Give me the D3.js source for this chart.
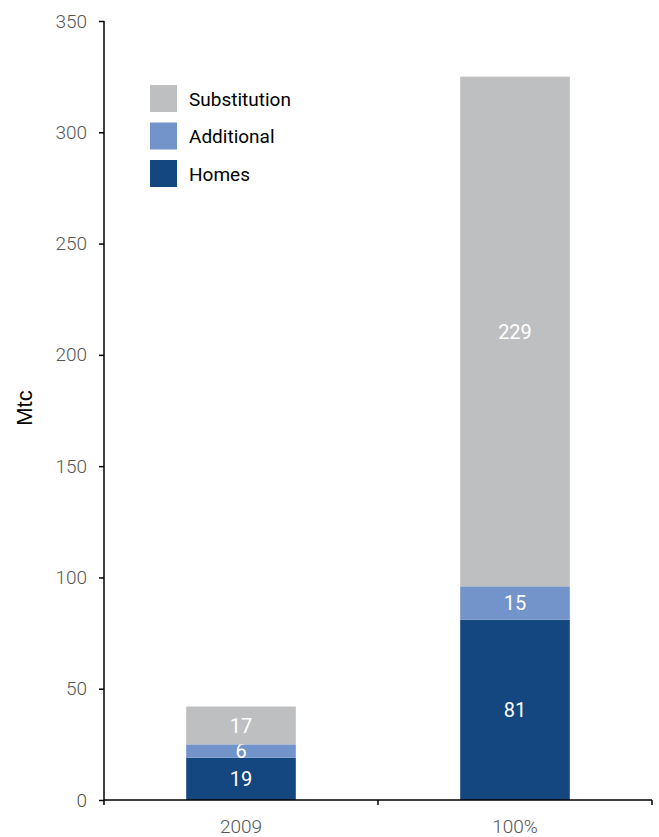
<!DOCTYPE html>
<html>
<head>
<meta charset="utf-8">
<script src="https://cdn.jsdelivr.net/npm/d3@7"></script>
<style>
  body { margin: 0; background: #fff; }
  text { font-family: "Century Gothic", Roboto, "DejaVu Sans", sans-serif; }
</style>
</head>
<body>
<script>
// data
var categories = ["2009", "100%"];
var seriesNames = ["Homes", "Additional", "Substitution"];
var homes = [19, 81];
var additional = [6, 15];
var substitution = [17, 229];
var yTicks = [0, 50, 100, 150, 200, 250, 300, 350];

var colors = { Homes: "#14467f", Additional: "#7393cb", Substitution: "#bebfc1" };

var width = 659, height = 837;
var plotLeft = 104, plotRight = 652, plotTop = 21, plotBottom = 800;

var svg = d3.select("body").append("svg")
    .attr("width", width)
    .attr("height", height);

// build rows for the stack
var rows = categories.map(function(c, i) {
  return { cat: c, Homes: homes[i], Additional: additional[i], Substitution: substitution[i] };
});
var stacked = d3.stack().keys(seriesNames)(rows);

var xAxisScale = d3.scaleBand().domain(categories).range([plotLeft, plotRight]).padding(0);
var xBar = d3.scaleBand().domain(categories).range([plotLeft, plotRight])
    .paddingInner(0.6).paddingOuter(0.3);

var y = d3.scaleLinear().domain([0, 350]).range([plotBottom, plotTop]);

// bars
var layer = svg.selectAll(".layer")
    .data(stacked)
  .enter().append("g")
    .attr("class", "layer")
    .attr("fill", function(d) { return colors[d.key]; });

layer.selectAll("rect")
    .data(function(d) { return d; })
  .enter().append("rect")
    .attr("x", function(d) { return xBar(d.data.cat); })
    .attr("width", xBar.bandwidth())
    .attr("y", function(d) { return y(d[1]); })
    .attr("height", function(d) { return y(d[0]) - y(d[1]); });

// value labels
layer.selectAll("text")
    .data(function(d) { return d; })
  .enter().append("text")
    .attr("x", function(d) { return xBar(d.data.cat) + xBar.bandwidth() / 2; })
    .attr("y", function(d) { return (y(d[0]) + y(d[1])) / 2; })
    .attr("dy", "0.36em")
    .attr("text-anchor", "middle")
    .attr("fill", "#fff")
    .style("font-size", "20px")
    .text(function(d) { return d[1] - d[0]; });

// y axis
var yAxis = d3.axisLeft(y).tickValues(yTicks).tickSize(5).tickPadding(12);
var gy = svg.append("g")
    .attr("transform", "translate(" + plotLeft + ",0)")
    .call(yAxis);
gy.select(".domain").attr("stroke", "#000").attr("stroke-width", 1.5)
    .attr("d", "M0," + plotTop + "V" + plotBottom);
gy.selectAll(".tick line").attr("stroke", "#000").attr("stroke-width", 1.5);
gy.selectAll(".tick text")
    .style("font-family", "Roboto, 'DejaVu Sans', sans-serif")
    .style("font-weight", "300")
    .style("font-size", "19px")
    .attr("fill", "#555");

// x axis: ticks sit on band edges, labels at centres
var gx = svg.append("g");
gx.append("line")
    .attr("x1", plotLeft).attr("x2", plotRight)
    .attr("y1", plotBottom).attr("y2", plotBottom)
    .attr("stroke", "#000").attr("stroke-width", 1.5);
var edges = categories.map(function(c) { return xAxisScale(c); }).concat([plotRight]);
gx.selectAll(".xtick")
    .data(edges)
  .enter().append("line")
    .attr("class", "xtick")
    .attr("x1", function(d) { return d; }).attr("x2", function(d) { return d; })
    .attr("y1", plotBottom).attr("y2", plotBottom + 5)
    .attr("stroke", "#000").attr("stroke-width", 1.5);
gx.selectAll(".xlabel")
    .data(categories)
  .enter().append("text")
    .attr("class", "xlabel")
    .attr("x", function(d) { return xAxisScale(d) + xAxisScale.bandwidth() / 2; })
    .attr("y", 833)
    .attr("text-anchor", "middle")
    .attr("fill", "#555")
    .style("font-family", "Roboto, 'DejaVu Sans', sans-serif")
    .style("font-weight", "300")
    .style("font-size", "19px")
    .text(function(d) { return d; });

// y label
svg.append("text")
    .attr("transform", "translate(32,408) rotate(-90)")
    .attr("text-anchor", "middle")
    .attr("fill", "#000")
    .style("font-family", "'Liberation Sans', Arial, sans-serif")
    .style("font-size", "22px")
    .text("Mtc");

// legend (top item is Substitution)
var legendItems = seriesNames.slice().reverse();
var legend = svg.append("g").attr("transform", "translate(150,85)");
var li = legend.selectAll(".li")
    .data(legendItems)
  .enter().append("g")
    .attr("class", "li")
    .attr("transform", function(d, i) { return "translate(0," + (i * 37.5) + ")"; });
li.append("rect")
    .attr("width", 27).attr("height", 27)
    .attr("fill", function(d) { return colors[d]; });
li.append("text")
    .attr("x", 39).attr("y", 14)
    .attr("dy", "0.36em")
    .attr("fill", "#000")
    .style("font-size", "19px")
    .text(function(d) { return d; });
</script>
</body>
</html>
